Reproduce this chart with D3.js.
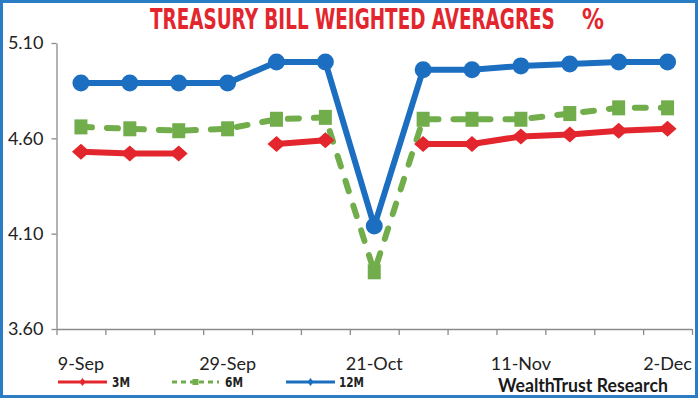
<!DOCTYPE html>
<html>
<head>
<meta charset="utf-8">
<script src="https://cdn.jsdelivr.net/npm/d3@7/dist/d3.min.js"></script>
<style>
  html, body { margin: 0; padding: 0; background: #fff; }
  svg { display: block; }
</style>
</head>
<body>
<svg id="chart" width="700" height="400"></svg>
<script>
// ---- data ----
const categories = ["9-Sep","15-Sep","22-Sep","29-Sep","6-Oct","13-Oct","21-Oct","28-Oct","4-Nov","11-Nov","18-Nov","25-Nov","2-Dec"];
const shownLabels = ["9-Sep","29-Sep","21-Oct","11-Nov","2-Dec"];
const threeM  = [4.53, 4.52, 4.52, null, 4.57, 4.59, null, 4.57, 4.57, 4.61, 4.62, 4.64, 4.65];
const sixM    = [4.66, 4.65, 4.64, 4.65, 4.70, 4.71, 3.90, 4.70, 4.70, 4.70, 4.73, 4.76, 4.76];
const twelveM = [4.89, 4.89, 4.89, 4.89, 5.00, 5.00, 4.14, 4.96, 4.96, 4.98, 4.99, 5.00, 5.00];
const yTicks = [3.60, 4.10, 4.60, 5.10];
const seriesNames = ["3M", "6M", "12M"];
const titleText = "TREASURY BILL WEIGHTED AVERAGRES";
const titleUnit = "%";
const sourceText = "WealthTrust Research";

(function () {
const RED = "#e3262d", GREEN = "#72ad4c", BLUE = "#1c6fc0";
const NARROW = "'Liberation Sans Narrow', 'DejaVu Sans Condensed', sans-serif";

const svg = d3.select("#chart");

// frame
svg.append("rect").attr("x", 1.5).attr("y", 1.5).attr("width", 695).attr("height", 395)
  .attr("fill", "#fff").attr("stroke", "#2a7cc4").attr("stroke-width", 3);

// fit text horizontally to a target width by scaling (keeps glyph height)
function fitText(sel, x, yb, width, anchor) {
  const w = sel.node().getComputedTextLength();
  const k = width / w;
  let x0 = x;
  if (anchor === "middle") x0 = x - width / 2;
  sel.attr("x", 0).attr("y", 0).attr("transform", `translate(${x0},${yb}) scale(${k},1)`);
}

// scales
const pLeft = 56.5, pRight = 692, pTop = 43, pBottom = 329;
const xi = d3.scaleLinear().domain([0, categories.length]).range([pLeft, pRight]);
const xb = d3.scaleBand().domain(categories).range([pLeft, pRight]).padding(0);
const y = d3.scaleLinear().domain([3.6, 5.1]).range([pBottom, pTop]);
const cx = i => xb(categories[i]) + xb.bandwidth() / 2;

// axes
const yAxis = svg.append("g").attr("transform", `translate(${pLeft},0)`)
  .call(d3.axisLeft(y).tickValues(yTicks).tickFormat(d3.format(".2f")).tickSize(5).tickSizeOuter(0).tickPadding(8));
yAxis.select(".domain").attr("stroke", "#8a8a8a").attr("stroke-width", 1.3);
yAxis.selectAll(".tick line").attr("stroke", "#8a8a8a").attr("stroke-width", 1.3);
yAxis.selectAll("text").attr("font-family", "Lato, 'DejaVu Sans'").attr("font-size", 18).attr("fill", "#222");

const xAxis = svg.append("g").attr("transform", `translate(0,${pBottom})`)
  .call(d3.axisBottom(xi).tickValues(d3.range(0, categories.length + 1)).tickFormat("").tickSize(6).tickSizeOuter(0));
xAxis.select(".domain").attr("stroke", "#8a8a8a").attr("stroke-width", 1.3);
xAxis.selectAll(".tick line").attr("stroke", "#8a8a8a").attr("stroke-width", 1.3);

const xLab = svg.append("g").attr("transform", `translate(0,${pBottom})`)
  .call(d3.axisBottom(xb).tickValues(shownLabels).tickSize(0).tickPadding(28));
xLab.select(".domain").remove();
xLab.selectAll("text").attr("font-family", "Lato, 'DejaVu Sans'").attr("font-size", 18).attr("fill", "#222");

// title
const t1 = svg.append("text")
  .attr("font-family", NARROW).attr("font-weight", "bold").attr("font-size", 28).attr("fill", RED)
  .text(titleText);
fitText(t1, 150, 29, 405, "start");
const t2 = svg.append("text")
  .attr("font-family", NARROW).attr("font-weight", "bold").attr("font-size", 28).attr("fill", RED)
  .text(titleUnit);
fitText(t2, 593, 29, 22, "middle");

// lines
const lineIdx = arr => d3.line().defined(d => d.v != null).x(d => cx(d.i)).y(d => y(d.v))(arr.map((v, i) => ({v, i})));

svg.append("path").attr("d", lineIdx(sixM)).attr("fill", "none").attr("stroke", GREEN)
  .attr("stroke-width", 6).attr("stroke-dasharray", "11,15").attr("stroke-linecap", "round").attr("stroke-linejoin", "round");
svg.append("path").attr("d", lineIdx(threeM)).attr("fill", "none").attr("stroke", RED)
  .attr("stroke-width", 6).attr("stroke-linejoin", "round");
svg.append("path").attr("d", lineIdx(twelveM)).attr("fill", "none").attr("stroke", BLUE)
  .attr("stroke-width", 6).attr("stroke-linejoin", "round");

// markers
svg.append("g").selectAll("rect").data(sixM.map((v, i) => ({v, i})).filter(d => d.v != null)).join("rect")
  .attr("x", d => cx(d.i) - 6.5).attr("y", d => y(d.v) - 7.5).attr("width", 13).attr("height", 15).attr("fill", GREEN);
svg.append("g").selectAll("path").data(threeM.map((v, i) => ({v, i})).filter(d => d.v != null)).join("path")
  .attr("d", d => { const X = cx(d.i), Y = y(d.v); return `M${X-9},${Y}L${X},${Y-8}L${X+9},${Y}L${X},${Y+8}Z`; })
  .attr("fill", RED);
svg.append("g").selectAll("circle").data(twelveM.map((v, i) => ({v, i})).filter(d => d.v != null)).join("circle")
  .attr("cx", d => cx(d.i)).attr("cy", d => y(d.v)).attr("r", 8.5).attr("fill", BLUE);

// legend
const legY = 382;
const legItems = [
  {name: seriesNames[0], color: RED, x0: 58, x1: 107, dash: null, mk: "diamond", tx: 112, tw: 18},
  {name: seriesNames[1], color: GREEN, x0: 172, x1: 219, dash: "5,4", mk: "square", tx: 225, tw: 18},
  {name: seriesNames[2], color: BLUE, x0: 286, x1: 335, dash: null, mk: "diamond", tx: 339, tw: 25}
];
const lg = svg.append("g");
legItems.forEach(it => {
  lg.append("line").attr("x1", it.x0).attr("x2", it.x1).attr("y1", legY).attr("y2", legY)
    .attr("stroke", it.color).attr("stroke-width", 3).attr("stroke-dasharray", it.dash);
  const mx = (it.x0 + it.x1) / 2;
  if (it.mk === "square") {
    lg.append("rect").attr("x", mx - 3).attr("y", legY - 3).attr("width", 6).attr("height", 6).attr("fill", it.color);
  } else {
    lg.append("path").attr("d", `M${mx-3},${legY}L${mx},${legY-4}L${mx+3},${legY}L${mx},${legY+4}Z`).attr("fill", it.color);
  }
  const tt = lg.append("text")
    .attr("font-family", NARROW).attr("font-weight", "bold").attr("font-size", 14).attr("fill", "#222").text(it.name);
  fitText(tt, it.tx, legY + 5, it.tw, "start");
});

// source
const src = svg.append("text")
  .attr("font-family", "Lato, 'DejaVu Sans'").attr("font-weight", "bold").attr("font-size", 18).attr("fill", "#1a1a1a")
  .text(sourceText);
fitText(src, 498, 392, 170, "start");
})();
</script>
</body>
</html>
